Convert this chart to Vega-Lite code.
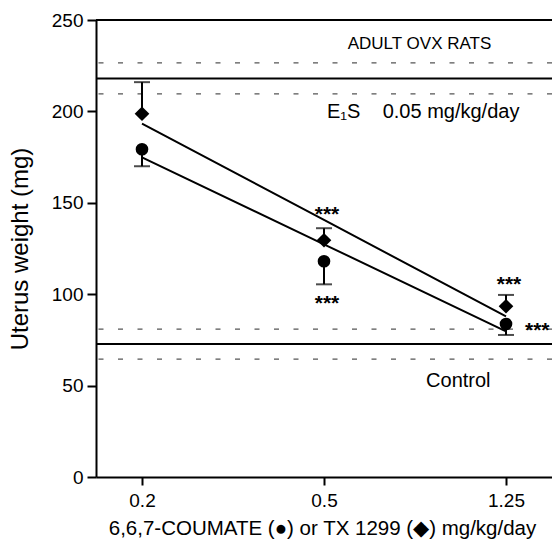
{
  "$schema": "https://vega.github.io/schema/vega-lite/v6.json",
  "autosize": {"type": "none"},
  "padding": {"left": 96, "top": 20, "right": 0, "bottom": 64},
  "width": 456,
  "height": 457,
  "background": "white",
  "config": {
    "view": {"stroke": null},
    "font": "Liberation Sans",
    "axis": {"domainColor": "black", "tickColor": "black", "labelColor": "black", "titleColor": "black", "grid": false, "labelFont": "Liberation Sans", "titleFont": "Liberation Sans", "titleFontWeight": "normal"},
    "axisY": {
      "titleFontSize": 24, "titleX": -69, "titleBaseline": "alphabetic", "titleAngle": -90,
      "labelFontSize": 19, "labelPadding": 4, "tickSize": 9, "tickWidth": 2, "domainWidth": 2
    }
  },
  "datasets": {
    "points": [
      {"dose": "0.2", "compound": "6,6,7-COUMATE", "mean": 179.3, "err": 170.0, "fit": 174.9},
      {"dose": "0.5", "compound": "6,6,7-COUMATE", "mean": 118.0, "err": 105.4, "fit": 127.3},
      {"dose": "1.25", "compound": "6,6,7-COUMATE", "mean": 83.7, "err": 77.7, "fit": 79.7},
      {"dose": "0.2", "compound": "TX 1299", "mean": 198.7, "err": 216.0, "fit": 193.3},
      {"dose": "0.5", "compound": "TX 1299", "mean": 129.5, "err": 136.1, "fit": 140.6},
      {"dose": "1.25", "compound": "TX 1299", "mean": 93.4, "err": 99.6, "fit": 87.9}
    ],
    "solidRefs": [
      {"group": "frame", "value": 250},
      {"group": "Adult OVX rats", "value": 218},
      {"group": "Control", "value": 72.7}
    ],
    "dashedRefs": [
      {"group": "Adult OVX rats", "value": 226.5},
      {"group": "Adult OVX rats", "value": 209.6},
      {"group": "Control", "value": 80.9},
      {"group": "Control", "value": 64.5}
    ]
  },
  "encoding": {
    "x": {
      "field": "dose", "type": "ordinal", "sort": ["0.2", "0.5", "1.25"],
      "scale": {"type": "point", "padding": 0.2527},
      "axis": {
        "title": "6,6,7-COUMATE (●) or TX 1299 (◆) mg/kg/day",
        "titleFontSize": 20.5, "titleX": 226, "titleY": 57, "titleBaseline": "alphabetic", "titleAlign": "center",
        "labelAngle": 0, "labelFontSize": 19, "labelBaseline": "alphabetic", "labelPadding": 21,
        "tickSize": 8, "tickWidth": 2, "domainWidth": 2
      }
    }
  },
  "layer": [
    {
      "data": {"name": "dashedRefs"},
      "mark": {"type": "rule", "color": "#555555", "strokeWidth": 1.3, "strokeDash": [5, 14.5]},
      "encoding": {
        "x": null,
        "y": {"field": "value", "type": "quantitative", "title": "Uterus weight (mg)", "scale": {"domain": [0, 250], "nice": false},
          "axis": {"values": [0, 50, 100, 150, 200, 250]}}
      }
    },
    {
      "data": {"name": "solidRefs"},
      "mark": {"type": "rule", "color": "black", "strokeWidth": 2},
      "encoding": {"x": null, "y": {"field": "value", "type": "quantitative", "title": "Uterus weight (mg)"}}
    },
    {
      "data": {"name": "points"},
      "mark": {"type": "line", "color": "black", "strokeWidth": 2},
      "encoding": {"y": {"field": "fit", "type": "quantitative", "title": "Uterus weight (mg)"}, "detail": {"field": "compound"}}
    },
    {
      "data": {"name": "points"},
      "mark": {"type": "rule", "color": "black", "strokeWidth": 2},
      "encoding": {"y": {"field": "mean", "type": "quantitative", "title": "Uterus weight (mg)"}, "y2": {"field": "err"}}
    },
    {
      "data": {"name": "points"},
      "mark": {"type": "tick", "color": "black", "thickness": 2, "size": 16, "orient": "horizontal"},
      "encoding": {"y": {"field": "err", "type": "quantitative", "title": "Uterus weight (mg)"}}
    },
    {
      "data": {"name": "points"},
      "mark": {"type": "point", "filled": true, "color": "black", "opacity": 1},
      "encoding": {
        "y": {"field": "mean", "type": "quantitative", "title": "Uterus weight (mg)"},
        "shape": {"field": "compound", "type": "nominal", "scale": {"domain": ["6,6,7-COUMATE", "TX 1299"], "range": ["circle", "diamond"]}, "legend": null},
        "size": {"field": "compound", "type": "nominal", "scale": {"domain": ["6,6,7-COUMATE", "TX 1299"], "range": [160, 215]}, "legend": null}
      }
    },
    {
      "data": {"values": [{"dose": "1.25", "value": 234.3, "label": "ADULT OVX RATS"}]},
      "mark": {"type": "text", "fontSize": 17, "align": "center", "baseline": "alphabetic", "dx": -86.5, "color": "black"},
      "encoding": {"y": {"field": "value", "type": "quantitative", "title": "Uterus weight (mg)"}, "text": {"field": "label"}}
    },
    {
      "data": {"values": [{"dose": "0.5", "value": 196.5, "label": "E₁S\u00a0\u00a0\u00a0\u00a00.05 mg/kg/day"}]},
      "mark": {"type": "text", "fontSize": 20, "align": "left", "baseline": "alphabetic", "dx": 3, "color": "black"},
      "encoding": {"y": {"field": "value", "type": "quantitative", "title": "Uterus weight (mg)"}, "text": {"field": "label"}}
    },
    {
      "data": {"values": [{"dose": "1.25", "value": 49.0, "label": "Control"}]},
      "mark": {"type": "text", "fontSize": 20, "align": "center", "baseline": "alphabetic", "dx": -47.7, "color": "black"},
      "encoding": {"y": {"field": "value", "type": "quantitative", "title": "Uterus weight (mg)"}, "text": {"field": "label"}}
    },
    {
      "data": {"values": [
        {"dose": "0.5", "value": 140.0, "label": "***"},
        {"dose": "0.5", "value": 91.3, "label": "***"},
        {"dose": "1.25", "value": 101.7, "label": "***"}
      ]},
      "mark": {"type": "text", "fontSize": 21, "fontWeight": "bold", "align": "center", "baseline": "alphabetic", "dx": 3, "color": "black"},
      "encoding": {"y": {"field": "value", "type": "quantitative", "title": "Uterus weight (mg)"}, "text": {"field": "label"}}
    },
    {
      "data": {"values": [{"dose": "1.25", "value": 76.7, "label": "***"}]},
      "mark": {"type": "text", "fontSize": 21, "fontWeight": "bold", "align": "left", "baseline": "alphabetic", "dx": 19, "color": "black"},
      "encoding": {"y": {"field": "value", "type": "quantitative", "title": "Uterus weight (mg)"}, "text": {"field": "label"}}
    }
  ]
}
